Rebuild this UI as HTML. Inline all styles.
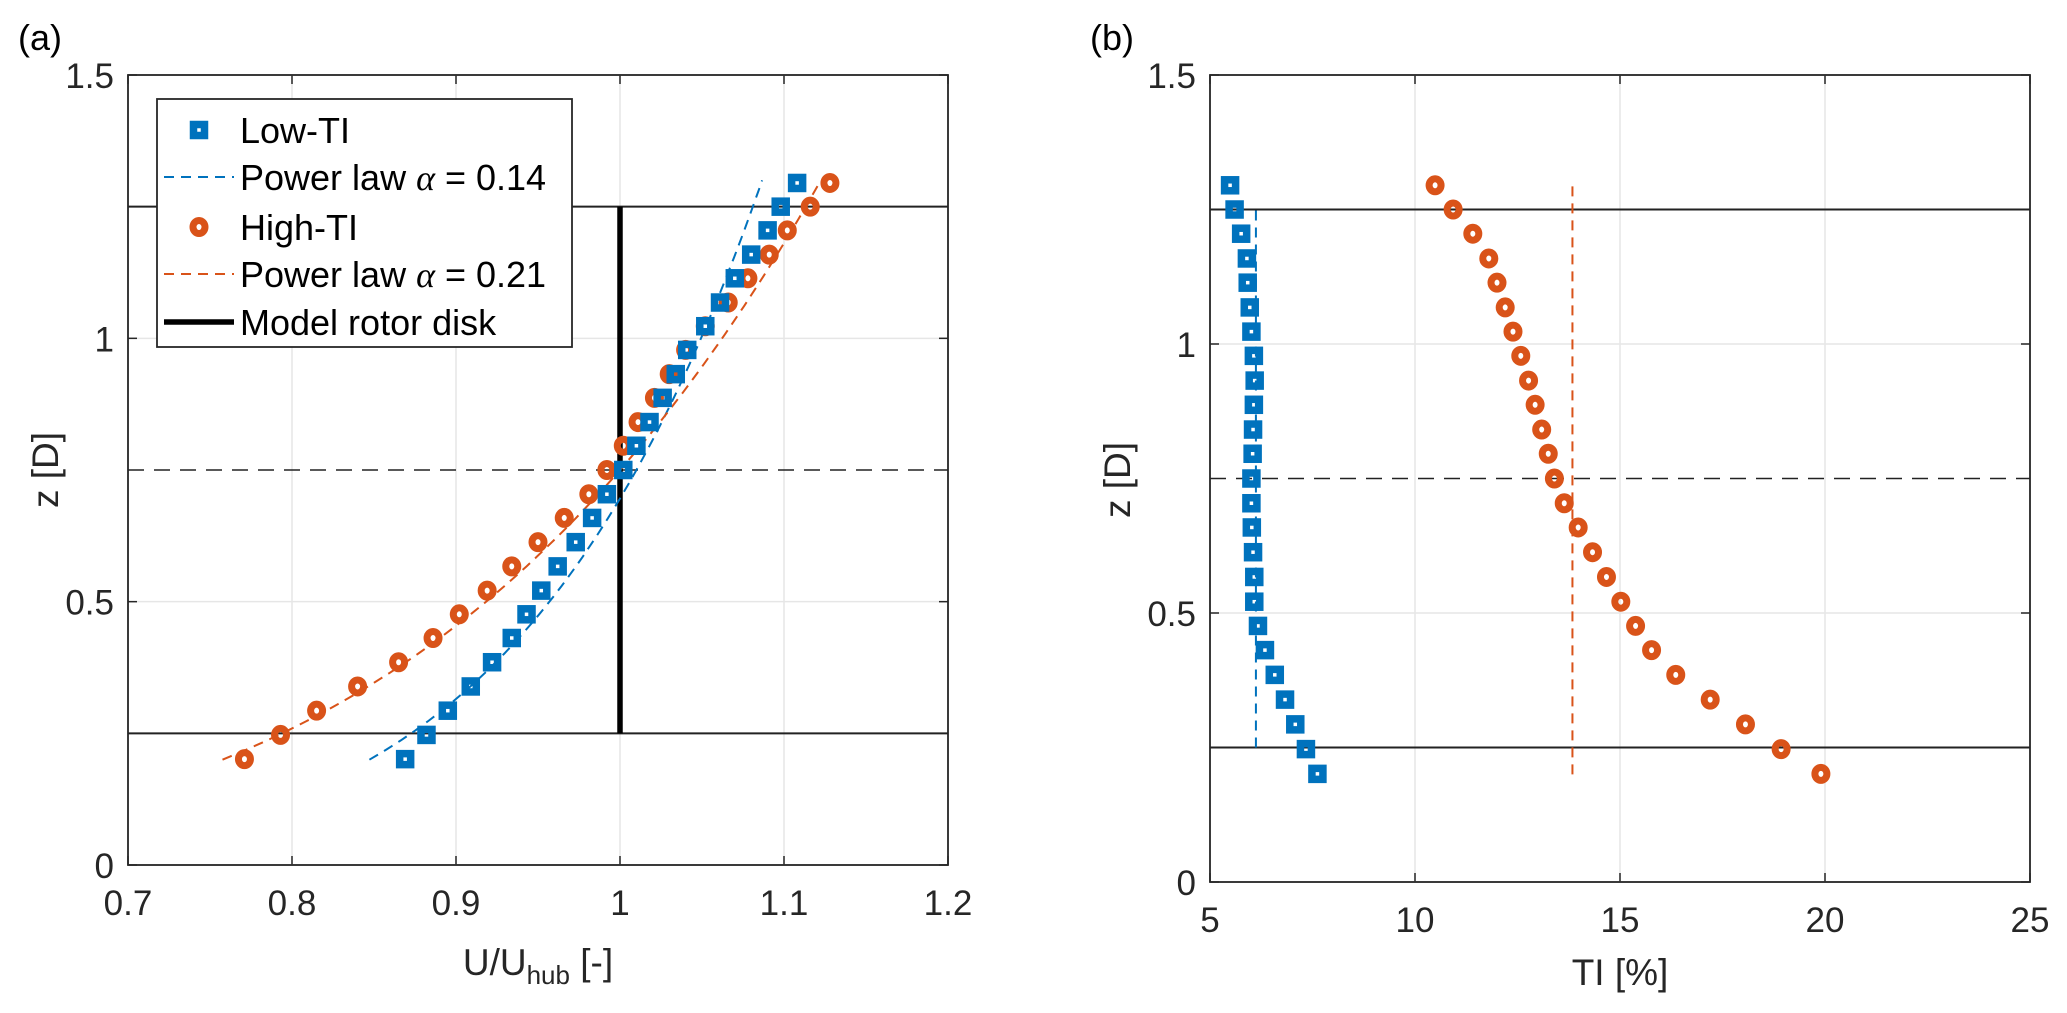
<!DOCTYPE html>
<html><head><meta charset="utf-8"><style>
html,body{margin:0;padding:0;background:#fff;}
svg{display:block;font-family:"Liberation Sans",Arial,sans-serif;}
</style></head><body>
<svg id="fig" width="2067" height="1013" viewBox="0 0 2067 1013" xmlns="http://www.w3.org/2000/svg">
<rect width="2067" height="1013" fill="#fff"/>
<text x="18" y="50" font-size="36">(a)</text>
<text x="1090" y="50" font-size="36">(b)</text>
<g id="pa"></g>
<g id="pb"></g>
</svg>
<script>
const zLevels = [0.201,0.247,0.293,0.339,0.385,0.431,0.476,0.521,0.567,0.613,0.659,0.704,0.750,0.796,0.841,0.887,0.932,0.978,1.023,1.068,1.114,1.159,1.205,1.250,1.295];
const uLowTI = [0.869,0.882,0.895,0.909,0.922,0.934,0.943,0.952,0.962,0.973,0.983,0.992,1.002,1.010,1.018,1.026,1.034,1.041,1.052,1.061,1.070,1.080,1.090,1.098,1.108];
const uHighTI = [0.771,0.793,0.815,0.840,0.865,0.886,0.902,0.919,0.934,0.950,0.966,0.981,0.992,1.002,1.011,1.021,1.030,1.040,1.052,1.066,1.078,1.091,1.102,1.116,1.128];
const tiLow = [7.62,7.34,7.08,6.83,6.58,6.34,6.17,6.08,6.08,6.05,6.02,6.01,6.01,6.04,6.05,6.07,6.09,6.07,6.01,5.97,5.92,5.90,5.76,5.60,5.49];
const tiHigh = [19.9,18.93,18.06,17.2,16.36,15.77,15.38,15.02,14.67,14.33,13.98,13.64,13.40,13.25,13.09,12.93,12.77,12.58,12.39,12.2,12.0,11.80,11.41,10.93,10.49];
const alphaLow = 0.14, alphaHigh = 0.21, zHub = 0.75;
const fitExpLow = 0.133, fitExpHigh = 0.21;
const fitScaleLow = 1.01, fitScaleHigh = 1.0;
const fitZRange = [0.2, 1.3];
const tiMeanLow = 6.12, tiMeanHigh = 13.84;
const xTicksA = [0.7,0.8,0.9,1,1.1,1.2], xTickLabelsA = ["0.7","0.8","0.9","1","1.1","1.2"];
const xTicksB = [5,10,15,20,25], xTickLabelsB = ["5","10","15","20","25"];
const yTicks = [0,0.5,1,1.5], yTickLabels = ["0","0.5","1","1.5"];
const rotorBounds = [0.25,1.25], hubHeight = 0.75, rotorU = 1;

const NS="http://www.w3.org/2000/svg";
const BLUE="#0072BD", RED="#D95319";
function mk(parent,tag,attrs){const e=document.createElementNS(NS,tag);for(const k in attrs)e.setAttribute(k,attrs[k]);parent.appendChild(e);return e;}

function axes(g,L,R,T,B,xmin,xmax,ymin,ymax,xt,xtl,pfx){
  const sx=v=>L+(v-xmin)/(xmax-xmin)*(R-L);
  const sy=v=>B-(v-ymin)/(ymax-ymin)*(B-T);
  xt.forEach((v,i)=>{
    const gl=mk(g,'line',{x1:sx(v),x2:sx(v),y1:T,y2:B,stroke:'#e6e6e6','stroke-width':1.5});
    
    
    const tl=mk(g,'text',{x:sx(v),y:B+50,'font-size':35,'text-anchor':'middle',fill:'#262626'});
    tl.textContent=xtl[i];
    
    
    mk(g,'line',{x1:sx(v),x2:sx(v),y1:B,y2:B-9,stroke:'#262626','stroke-width':1.5});
    mk(g,'line',{x1:sx(v),x2:sx(v),y1:T,y2:T+9,stroke:'#262626','stroke-width':1.5});
  });
  yTicks.forEach((v,i)=>{
    const gl=mk(g,'line',{x1:L,x2:R,y1:sy(v),y2:sy(v),stroke:'#e6e6e6','stroke-width':1.5});
    
    
    const tl=mk(g,'text',{x:L-14,y:sy(v)+13,'font-size':35,'text-anchor':'end',fill:'#262626'});
    tl.textContent=yTickLabels[i];
    
    
    mk(g,'line',{x1:L,x2:L+9,y1:sy(v),y2:sy(v),stroke:'#262626','stroke-width':1.5});
    mk(g,'line',{x1:R,x2:R-9,y1:sy(v),y2:sy(v),stroke:'#262626','stroke-width':1.5});
  });
  return {sx,sy};
}
function frame(g,L,R,T,B,pfx){
  const f=mk(g,'rect',{x:L,y:T,width:R-L,height:B-T,fill:'none',stroke:'#262626','stroke-width':1.8});
  
  
}
function refLines(g,L,R,sy,pfx){
  rotorBounds.forEach(z=>{const l=mk(g,'line',{x1:L,x2:R,y1:sy(z),y2:sy(z),stroke:'#222','stroke-width':2});
    
    });
  const h=mk(g,'line',{x1:L,x2:R,y1:sy(hubHeight),y2:sy(hubHeight),stroke:'#222','stroke-width':1.6,'stroke-dasharray':'16,10'});
  
  
}
function square(g,x,y,name){
  const r=mk(g,'rect',{x:x-5.5,y:y-5.5,width:11,height:11,fill:'none',stroke:BLUE,'stroke-width':7.5});
  
  
}
function circle(g,x,y,name){
  const c=mk(g,'ellipse',{cx:x,cy:y,rx:6,ry:6.5,fill:'none',stroke:RED,'stroke-width':7});
  
  
}

// Panel A
(function(){
  const g=document.getElementById('pa');
  const L=128,R=948,T=75,B=865;
  const {sx,sy}=axes(g,L,R,T,B,0.7,1.2,0,1.5,xTicksA,xTickLabelsA,'a');
  refLines(g,L,R,sy,'a');
  const rd=mk(g,'line',{x1:sx(rotorU),x2:sx(rotorU),y1:sy(rotorBounds[0]),y2:sy(rotorBounds[1]),stroke:'#000','stroke-width':5.5});
  
  
  [[fitExpLow,fitScaleLow,BLUE,'fit-low-ti'],[fitExpHigh,fitScaleHigh,RED,'fit-high-ti']].forEach(([a,c,col,nm])=>{
    let d='';
    for(let i=0;i<=60;i++){const z=fitZRange[0]+(fitZRange[1]-fitZRange[0])*i/60;const u=c*Math.pow(z/zHub,a);d+=(i?'L':'M')+sx(u).toFixed(1)+','+sy(z).toFixed(1);}
    const p=mk(g,'path',{d:d,fill:'none',stroke:col,'stroke-width':2,'stroke-dasharray':'10,7'});
    
    
  });
  zLevels.forEach((z,i)=>circle(g,sx(uHighTI[i]),sy(z),'high-ti-point'));
  zLevels.forEach((z,i)=>square(g,sx(uLowTI[i]),sy(z),'low-ti-point'));
  frame(g,L,R,T,B,'a');
  const yl=mk(g,'text',{x:0,y:0,'font-size':37,'text-anchor':'middle',fill:'#262626',transform:'translate(58,470) rotate(-90)'});
  yl.textContent='z [D]';
  
  
  const xl=mk(g,'text',{x:538,y:975,'font-size':37,'text-anchor':'middle',fill:'#262626'});
  xl.innerHTML='U/U<tspan font-size="26" dy="9">hub</tspan><tspan dy="-9"> [-]</tspan>';
  
  
  const lg=mk(g,'g',{});
  
  
  mk(lg,'rect',{x:157,y:99,width:415,height:248,fill:'#fff',stroke:'#262626','stroke-width':1.8});
  const ys=[130,177,227,274,322];
  const labels=['Low-TI','Power law \u03B1 = '+alphaLow.toFixed(2),'High-TI','Power law \u03B1 = '+alphaHigh.toFixed(2),'Model rotor disk'];
  square(lg,199,ys[0],'legend-low-ti-marker');
  mk(lg,'line',{x1:164,x2:234,y1:ys[1],y2:ys[1],stroke:BLUE,'stroke-width':2,'stroke-dasharray':'10,7'});
  circle(lg,199,ys[2],'legend-high-ti-marker');
  mk(lg,'line',{x1:164,x2:234,y1:ys[3],y2:ys[3],stroke:RED,'stroke-width':2,'stroke-dasharray':'10,7'});
  mk(lg,'line',{x1:164,x2:234,y1:ys[4],y2:ys[4],stroke:'#000','stroke-width':5.5});
  labels.forEach((t,i)=>{
    const tx=mk(lg,'text',{x:240,y:ys[i]+13,'font-size':36,fill:'#000'});
    if(t.indexOf('\u03B1')>=0){tx.innerHTML=t.replace('\u03B1','<tspan font-family="Liberation Serif" font-style="italic">\u03B1</tspan>');}
    else tx.textContent=t;
    
    
  });
})();

// Panel B
(function(){
  const g=document.getElementById('pb');
  const L=1210,R=2030,T=75,B=882;
  const {sx,sy}=axes(g,L,R,T,B,5,25,0,1.5,xTicksB,xTickLabelsB,'b');
  refLines(g,L,R,sy,'b');
  const m1=mk(g,'line',{x1:sx(tiMeanLow),x2:sx(tiMeanLow),y1:sy(0.25),y2:sy(1.25),stroke:BLUE,'stroke-width':2,'stroke-dasharray':'10,7'});
  
  
  const m2=mk(g,'line',{x1:sx(tiMeanHigh),x2:sx(tiMeanHigh),y1:sy(0.2),y2:sy(1.3),stroke:RED,'stroke-width':2,'stroke-dasharray':'10,7'});
  
  
  zLevels.forEach((z,i)=>circle(g,sx(tiHigh[i]),sy(z),'high-ti-ti-point'));
  zLevels.forEach((z,i)=>square(g,sx(tiLow[i]),sy(z),'low-ti-ti-point'));
  frame(g,L,R,T,B,'b');
  const yl=mk(g,'text',{x:0,y:0,'font-size':37,'text-anchor':'middle',fill:'#262626',transform:'translate(1130,480) rotate(-90)'});
  yl.textContent='z [D]';
  
  
  const xl=mk(g,'text',{x:1620,y:985,'font-size':37,'text-anchor':'middle',fill:'#262626'});
  xl.textContent='TI [%]';
  
  
})();
</script>
</body></html>
